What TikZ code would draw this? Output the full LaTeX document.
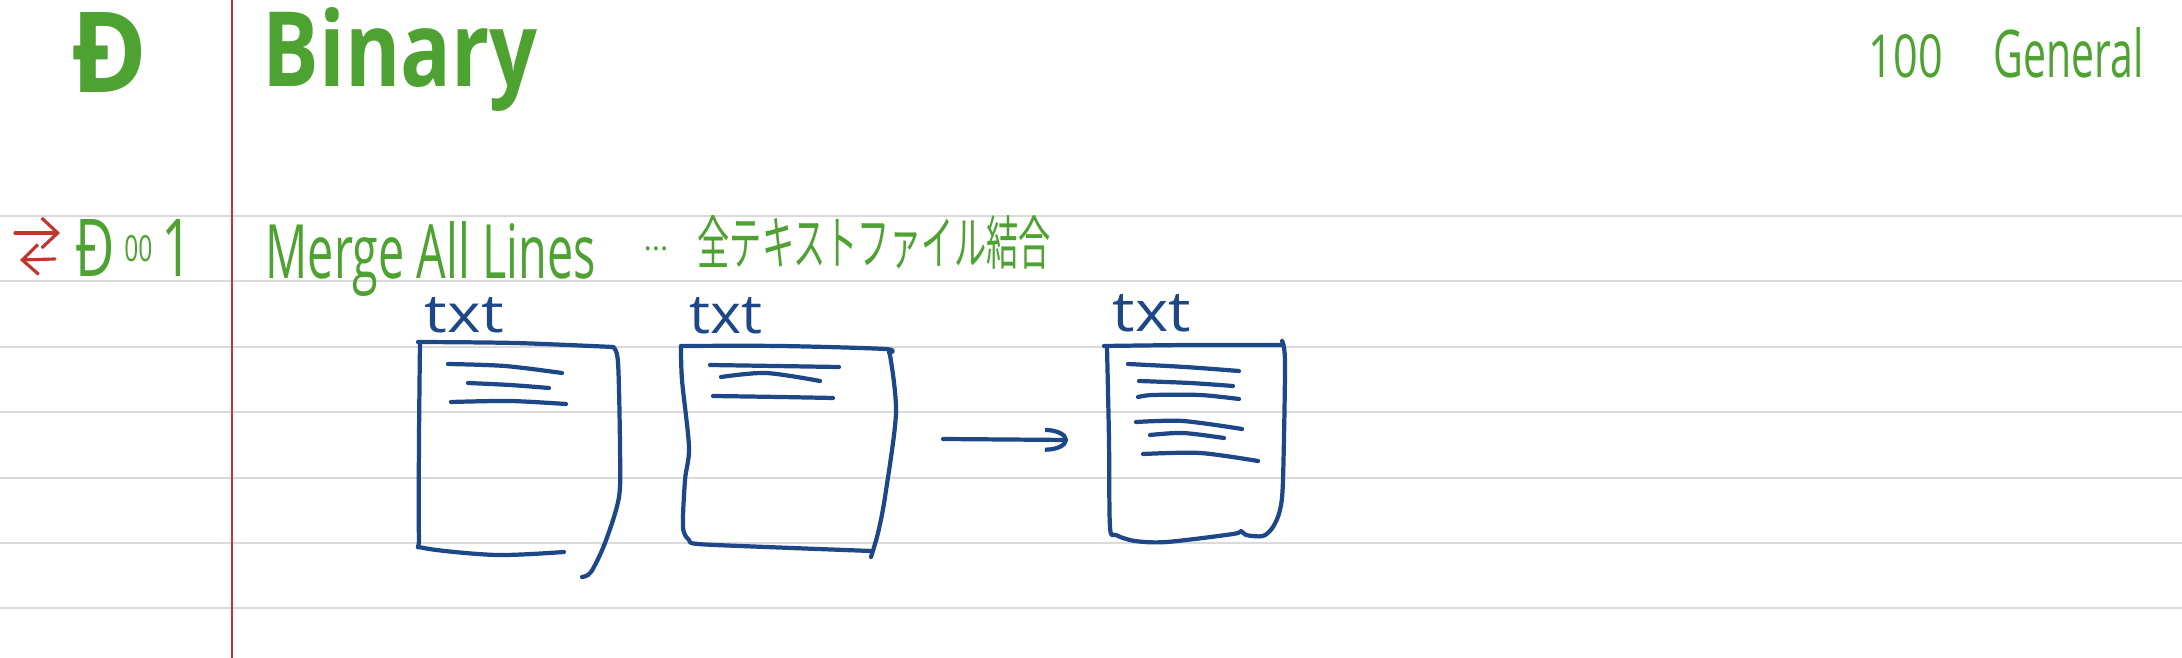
\documentclass[tikz,border=0pt]{standalone}
\usepackage{fontspec}
\usepackage{graphicx}
\setmainfont{Open Sans}
\newfontfamily\cjk{Noto Sans CJK JP}
\usetikzlibrary{arrows.meta}
\definecolor{inkgreen}{HTML}{4EA232}
\definecolor{inkred}{HTML}{C0362C}
\definecolor{inkblue}{HTML}{1D4787}
\definecolor{rulegray}{HTML}{DADADA}
\begin{document}
\begin{tikzpicture}[x=0.1mm,y=-0.1mm,
  rule/.style={draw=rulegray,line width=0.85pt},
  margin/.style={draw=inkred,line width=0.6pt},
  ink/.style={draw=inkblue,line width=1.2pt,line cap=round,line join=round},
  redink/.style={draw=inkred,line width=0.9pt,line cap=round,line join=round},
  gtext/.style={inner sep=0pt,anchor=base west,text=inkgreen},
  btext/.style={inner sep=0pt,anchor=base west,text=inkblue}]
\useasboundingbox (0,0) rectangle (2182,658);
\fill[white] (0,0) rectangle (2182,658);
% ruled lines
\foreach \yy in {216,281,347,412,478,543,608}
  \draw[rule] (0,\yy) -- (2182,\yy);
% margin line
\draw[margin] (232,0) -- (232,658);
% header
\node[gtext] (bigD) at (71,93) {\resizebox{7.6mm}{8mm}{\bfseries Đ}};
\node[gtext] (title) at (262,87) {\resizebox{27.5mm}{7.9mm}{\bfseries Binary}};
\node[gtext] (num) at (1868,78) {\resizebox{7.4mm}{4.3mm}{100}};
\node[gtext] (cat) at (1993,78) {\resizebox{15mm}{5mm}{General}};
% left red arrows
\coordinate (ra1) at (15,233); \coordinate (ra2) at (60,233);
\coordinate (rb1) at (55,259); \coordinate (rb2) at (20,260);
\draw[redink,-{Straight Barb[length=1.6mm,width=3mm]}] (ra1) -- (ra2);
\draw[redink,-{Straight Barb[length=1.6mm,width=3mm]}] (rb1) -- (rb2);
% item line
\node[gtext] (id) at (75,277) {\resizebox{11.7mm}{5.7mm}{Đ\,\raisebox{0.2em}{\scalebox{0.45}{00}}\,1}};
\node[gtext] (cmd) at (265,279) {\resizebox{33mm}{5.7mm}{Merge All Lines}};
\node[gtext,font=\fontsize{9}{10}\selectfont] (dots) at (643,251) {…};
\node[gtext] (desc) at (697,265) {\resizebox{35.3mm}{4.9mm}{\cjk 全テキストファイル結合}};
% txt labels
\node[btext] (lab1) at (424,333) {\resizebox{7.9mm}{3.5mm}{txt}};
\node[btext] (lab2) at (689,334) {\resizebox{7.3mm}{3.6mm}{txt}};
\node[btext] (lab3) at (1112,332) {\resizebox{7.8mm}{3.7mm}{txt}};
% box 1
\draw[ink] plot[smooth] coordinates {(418,342) (515,343) (613,347)};
\draw[ink] plot[smooth] coordinates {(420,342) (419,440) (419,537) (424,548) (496,555) (564,552)};
\draw[ink] plot[smooth] coordinates {(613,347) (618,362) (620,447) (619,497) (605,543) (591,572) (582,577)};
\draw[ink] plot[smooth] coordinates {(448,364) (505,366) (562,373)};
\draw[ink] plot[smooth] coordinates {(468,383) (510,385) (549,388)};
\draw[ink] plot[smooth] coordinates {(451,402) (510,401) (566,404)};
% box 2
\draw[ink] plot[smooth] coordinates {(681,346) (780,346) (885,349) (889,353)};
\draw[ink] plot[smooth] coordinates {(681,346) (682,380) (689,447) (685,480) (683,527) (689,540) (698,544) (766,547) (871,551)};
\draw[ink] plot[smooth] coordinates {(890,355) (896,413) (885,497) (878,533) (871,557)};
\draw[ink] plot[smooth] coordinates {(710,365) (775,366) (839,367)};
\draw[ink] plot[smooth] coordinates {(721,377) (766,373) (820,381)};
\draw[ink] plot[smooth] coordinates {(713,396) (780,397) (833,398)};
% box 3
\draw[ink] plot[smooth] coordinates {(1104,346) (1190,345) (1283,345)};
\draw[ink] plot[smooth] coordinates {(1107,347) (1109,440) (1110,527) (1116,535) (1135,541) (1167,542) (1233,534) (1241,531) (1246,535) (1263,536) (1273,527) (1280,510) (1283,480) (1285,363) (1282,341)};
\draw[ink] plot[smooth] coordinates {(1128,364) (1185,367) (1239,371)};
\draw[ink] plot[smooth] coordinates {(1139,381) (1190,383) (1233,386)};
\draw[ink] plot[smooth] coordinates {(1138,397) (1153,395) (1200,395) (1239,399)};
\draw[ink] plot[smooth] coordinates {(1136,422) (1183,421) (1242,429)};
\draw[ink] plot[smooth] coordinates {(1150,435) (1183,433) (1224,438)};
\draw[ink] plot[smooth] coordinates {(1143,454) (1200,453) (1258,461)};
% arrow
\coordinate (arS) at (943,439); \coordinate (arE) at (1068,440);
\draw[ink,-{Arc Barb[length=2.3mm,width=2.4mm]}] (arS) -- (arE);
\end{tikzpicture}
\end{document}
